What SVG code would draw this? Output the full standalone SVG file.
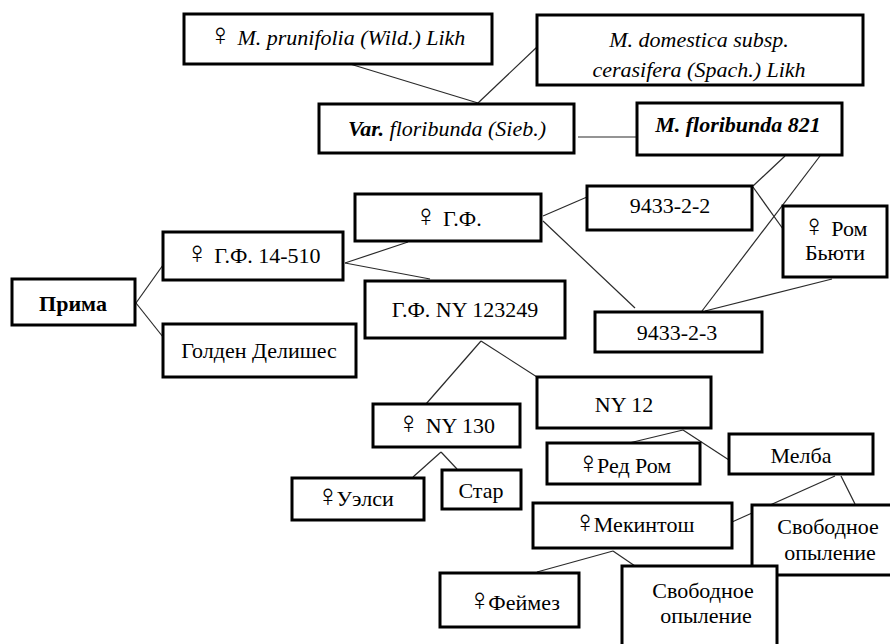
<svg xmlns="http://www.w3.org/2000/svg" width="890" height="644" viewBox="0 0 890 644">
  <style>
    .box { fill: #ffffff; stroke: #000000; stroke-width: 3; }
    .ln { stroke: #2a2a2a; stroke-width: 1.2; fill: none; }
    text { font-family: 'Liberation Serif', 'Times New Roman', serif; font-size: 22px; fill: #000000; text-anchor: middle; }
    .it { font-style: italic; }
    .bd { font-weight: bold; }
    .fem { font-family: 'DejaVu Sans', sans-serif; font-size: 31px; font-style: normal; font-weight: 200; }
  </style>
  <rect width="890" height="644" fill="#ffffff"/>

  <!-- connectors -->
  <g id="connectors">
    <line class="ln" x1="350" y1="64" x2="478" y2="103"/>
    <line class="ln" x1="537" y1="47" x2="478" y2="103"/>
    <line class="ln" x1="578" y1="137" x2="637" y2="137"/>
    <line class="ln" x1="543" y1="216" x2="587" y2="197"/>
    <line class="ln" x1="543" y1="221" x2="635" y2="308"/>
    <line class="ln" x1="785" y1="156" x2="753" y2="186"/>
    <line class="ln" x1="820" y1="156" x2="702" y2="311"/>
    <line class="ln" x1="753" y1="187" x2="783" y2="229"/>
    <line class="ln" x1="832" y1="279" x2="705" y2="311"/>
    <line class="ln" x1="136" y1="303" x2="163" y2="265"/>
    <line class="ln" x1="136" y1="303" x2="163" y2="337"/>
    <line class="ln" x1="345" y1="263" x2="408" y2="242"/>
    <line class="ln" x1="345" y1="263" x2="430" y2="279"/>
    <line class="ln" x1="481" y1="341" x2="426" y2="404"/>
    <line class="ln" x1="481" y1="341" x2="537" y2="377"/>
    <line class="ln" x1="441" y1="452" x2="413" y2="477"/>
    <line class="ln" x1="441" y1="452" x2="457" y2="469"/>
    <line class="ln" x1="683" y1="430" x2="629" y2="443"/>
    <line class="ln" x1="683" y1="430" x2="729" y2="460"/>
    <line class="ln" x1="835" y1="476" x2="732" y2="522"/>
    <line class="ln" x1="841" y1="476" x2="855" y2="504"/>
    <line class="ln" x1="613" y1="551" x2="537" y2="572"/>
    <line class="ln" x1="613" y1="551" x2="635" y2="566"/>
  </g>

  <g id="prunifolia">
    <rect class="box" x="184" y="14" width="308" height="50"/>
    <text x="337" y="45"><tspan class="fem">♀</tspan> <tspan class="it">M. prunifolia (Wild.) Likh</tspan></text>
  </g>

  <g id="domestica">
    <rect class="box" x="537" y="15" width="326" height="70"/>
    <text class="it" x="699" y="47">M. domestica subsp.</text>
    <text class="it" x="699" y="77">cerasifera (Spach.) Likh</text>
  </g>

  <g id="var-floribunda">
    <rect class="box" x="319" y="104" width="255" height="49"/>
    <text x="447" y="136"><tspan class="it bd">Var.</tspan><tspan class="it"> floribunda (Sieb.)</tspan></text>
  </g>

  <g id="floribunda-821">
    <rect class="box" x="637" y="103" width="205" height="52"/>
    <text class="it bd" x="738" y="132">M. floribunda 821</text>
  </g>

  <g id="gf">
    <rect class="box" x="355" y="194" width="186" height="47"/>
    <text x="448" y="226"><tspan class="fem">♀</tspan> Г.Ф.</text>
  </g>

  <g id="n9433-2-2">
    <rect class="box" x="587" y="186" width="165" height="44"/>
    <text x="670" y="213">9433-2-2</text>
  </g>

  <g id="rome-beauty">
    <rect class="box" x="783" y="206" width="104" height="71"/>
    <text x="835" y="236"><tspan class="fem">♀</tspan> Ром</text>
    <text x="835" y="260">Бьюти</text>
  </g>

  <g id="n9433-2-3">
    <rect class="box" x="595" y="312" width="167" height="40"/>
    <text x="677" y="340">9433-2-3</text>
  </g>

  <g id="prima">
    <rect class="box" x="12" y="279" width="123" height="46"/>
    <text class="bd" x="73" y="311">Прима</text>
  </g>

  <g id="gf-14-510">
    <rect class="box" x="163" y="232" width="180" height="48"/>
    <text x="253" y="263"><tspan class="fem">♀</tspan> Г.Ф. 14-510</text>
  </g>

  <g id="golden">
    <rect class="box" x="163" y="324" width="193" height="53"/>
    <text x="259" y="358">Голден Делишес</text>
  </g>

  <g id="gf-ny-123249">
    <rect class="box" x="365" y="281" width="200" height="57"/>
    <text x="465" y="317">Г.Ф. NY 123249</text>
  </g>

  <g id="ny12">
    <rect class="box" x="537" y="377" width="174" height="51"/>
    <text x="624" y="412">NY 12</text>
  </g>

  <g id="ny130">
    <rect class="box" x="373" y="404" width="147" height="43"/>
    <text x="446" y="433"><tspan class="fem">♀</tspan> NY 130</text>
  </g>

  <g id="welsey">
    <rect class="box" x="292" y="478" width="132" height="42"/>
    <text x="355" y="506"><tspan class="fem">♀</tspan><tspan dx="-3">Уэлси</tspan></text>
  </g>

  <g id="star">
    <rect class="box" x="442" y="470" width="79" height="39"/>
    <text x="481" y="498">Стар</text>
  </g>

  <g id="red-rome">
    <rect class="box" x="547" y="443" width="153" height="41"/>
    <text x="624" y="473"><tspan class="fem">♀</tspan><tspan dx="-3">Ред Ром</tspan></text>
  </g>

  <g id="melba">
    <rect class="box" x="729" y="434" width="144" height="40"/>
    <text x="801" y="463">Мелба</text>
  </g>

  <g id="mcintosh">
    <rect class="box" x="533" y="503" width="199" height="45"/>
    <text x="634" y="532"><tspan class="fem">♀</tspan><tspan dx="-3">Мекинтош</tspan></text>
  </g>

  <g id="open-pollination-1">
    <rect class="box" x="752" y="505" width="160" height="70"/>
    <text x="828" y="534">Свободное</text>
    <text x="830" y="560">опыление</text>
  </g>

  <g id="fameuse">
    <rect class="box" x="440" y="573" width="139" height="54"/>
    <text x="514" y="610"><tspan class="fem">♀</tspan><tspan dx="-3">Феймез</tspan></text>
  </g>

  <g id="open-pollination-2">
    <rect class="box" x="622" y="566" width="155" height="90"/>
    <text x="703" y="598">Свободное</text>
    <text x="706" y="623">опыление</text>
  </g>
</svg>
